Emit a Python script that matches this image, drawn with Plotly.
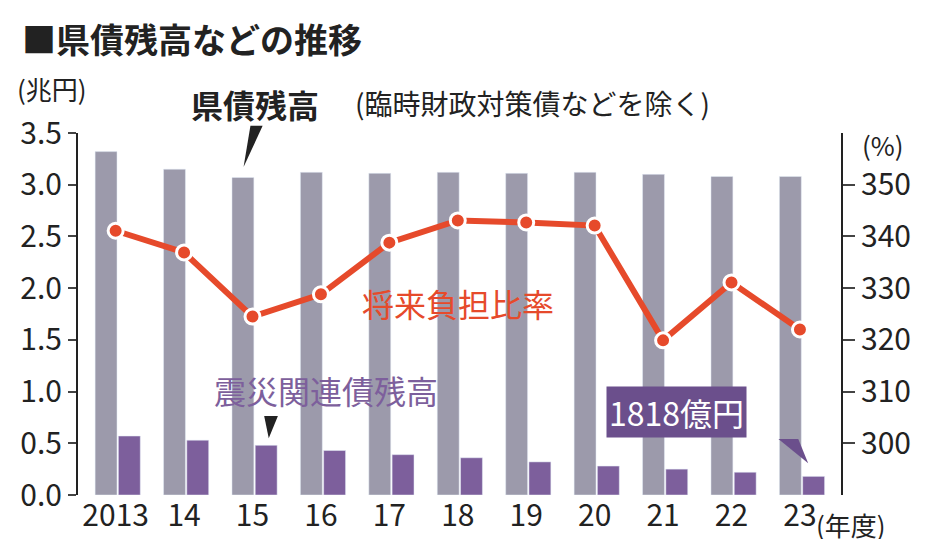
import plotly.graph_objects as go

years = ["2013","14","15","16","17","18","19","20","21","22","23"]
debt = [3.32,3.15,3.07,3.12,3.11,3.12,3.11,3.12,3.10,3.08,3.08]
quake = [0.57,0.53,0.48,0.43,0.39,0.36,0.32,0.28,0.25,0.22,0.18]
ratio = [341.1,336.9,324.5,328.8,338.8,343.1,342.7,342.1,319.9,331.1,322.0]
left_ticks = [0,0.5,1,1.5,2,2.5,3,3.5]
right_ticks = [300,310,320,330,340,350]

F = "Noto Sans CJK JP"
fig = go.Figure()
fig.add_bar(x=years, y=debt, marker_color="#9c9aab", width=0.32, offset=-0.3)
fig.add_bar(x=years, y=quake, marker_color="#7d5f9c", width=0.32, offset=0.04)
fig.add_scatter(x=years, y=ratio, yaxis="y2", mode="lines+markers",
                line=dict(color="#e64a2b", width=6),
                marker=dict(color="#e64a2b", size=15, line=dict(color="white", width=3)))
fig.update_layout(
    width=925, height=539, paper_bgcolor="white", plot_bgcolor="white",
    showlegend=False, barmode="overlay",
    margin=dict(l=66, r=92, t=125, b=52),
    font=dict(family=F, size=30, color="#222"),
    xaxis=dict(type="category", showline=False, ticks="", tickfont=dict(size=30),
               range=[-0.55, 10.6]),
    yaxis=dict(range=[0,3.5], tickvals=left_ticks, tickformat=".1f", showgrid=False,
               showline=True, linecolor="#222", linewidth=2, ticks="outside",
               ticklen=8, tickwidth=2, zeroline=False),
    yaxis2=dict(range=[290,360], tickvals=right_ticks, overlaying="y", side="right",
                showgrid=False, showline=True, linecolor="#222", linewidth=2,
                ticks="outside", ticklen=12, tickwidth=2, zeroline=False),
)
ann = [
    dict(x=-0.076, y=1.335, text="<b>■県債残高などの推移</b>", size=34),
    dict(x=-0.082, y=1.18, text="(兆円)", size=26),
    dict(x=1.025, y=1.025, text="(%)", size=26),
    dict(x=0.145, y=1.15, text="<b>県債残高</b>", size=32),
    dict(x=0.36, y=1.145, text="(臨時財政対策債などを除く)", size=28),
    dict(x=0.175, y=0.36, text="震災関連債残高", size=32, color="#7d5f9c"),
    dict(x=0.37, y=0.6, text="将来負担比率", size=32, color="#e64a2b"),
    dict(x=0.965, y=-0.025, text="(年度)", size=26),
]
for a in ann:
    fig.add_annotation(xref="paper", yref="paper", x=a["x"], y=a["y"], text=a["text"],
                       showarrow=False, xanchor="left", yanchor="top",
                       font=dict(size=a["size"], color=a.get("color", "#222"), family=F))
fig.add_annotation(xref="paper", yref="paper", x=0.692, y=0.3, text="1818億円",
                   showarrow=False, xanchor="left", yanchor="top", bgcolor="#6b4f8c",
                   font=dict(size=32, color="white", family=F), borderpad=2)
fig.add_shape(type="path", xref="paper", yref="paper",
              path="M 0.918 0.155 L 0.944 0.155 L 0.957 0.088 Z", fillcolor="#6b4f8c", line_width=0)
fig.add_shape(type="path", xref="paper", yref="paper",
              path="M 0.226 1.02 L 0.242 1.02 L 0.217 0.906 Z", fillcolor="#222", line_width=0)
fig.add_shape(type="path", xref="paper", yref="paper",
              path="M 0.244 0.218 L 0.262 0.218 L 0.25 0.157 Z", fillcolor="#222", line_width=0)
fig.write_html("out.html")
